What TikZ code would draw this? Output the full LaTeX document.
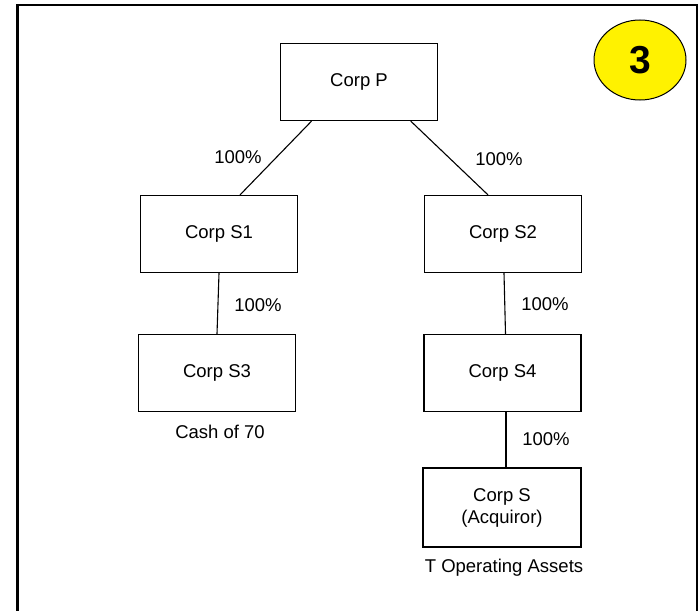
\documentclass[tikz,border=0pt]{standalone}
\usepackage{fontspec}
\setmainfont{Liberation Sans}
\usetikzlibrary{calc,shapes.geometric}
\tikzset{
  corp/.style={draw, line width=1.3pt, minimum width=157pt, minimum height=77pt, inner sep=0pt, align=center, font=\fontsize{18.5}{22}\selectfont},
  lbl/.style={inner sep=0pt, font=\fontsize{18.5}{22}\selectfont},
  link/.style={line width=1.1pt},
  frame/.style={line width=2.2pt},
}
\begin{document}
\begin{tikzpicture}[x=1pt,y=-1pt]
\useasboundingbox (0,0) rectangle (700,610);
% frame
\coordinate (fbl) at (17.5,611);
\coordinate (ftl) at (17.5,5);
\coordinate (ftr) at (697,5);
\coordinate (fbr) at (697,611);
\draw[frame] (fbl) -- (ftl) -- (ftr) -- (fbr);
% badge
\node[draw, line width=1pt, fill=yellow, ellipse, minimum width=92pt, minimum height=80pt, inner sep=0pt, font=\fontsize{39}{40}\selectfont\bfseries] (badge) at (640,60) {3};
% boxes
\node[corp] (P) at (359,82) {Corp P};
\node[corp] (S1) at (219,234) {Corp S1};
\node[corp] (S2) at (503,234) {Corp S2};
\node[corp] (S3) at (217,373) {Corp S3};
\node[corp] (S4) at (502.5,373) {Corp S4};
\node[corp, minimum width=158pt, minimum height=79pt] (S) at (502,507.5) {Corp S\\(Acquiror)};
% connectors
\draw[link] ($(P.south west)!0.2!(P.south east)$) -- ($(S1.north west)!0.633!(S1.north east)$);
\draw[link] ($(P.south west)!0.827!(P.south east)$) -- ($(S2.north west)!0.405!(S2.north east)$);
\draw[link] (S1.south) -- (S3.north);
\draw[link] ($(S2.south)+(1,0)$) -- ($(S4.north)+(3,0)$);
\draw[link] ($(S4.south)+(3.5,0)$) -- ($(S.north)+(4,0)$);
% labels
\node[lbl] (l1) at (238,157) {100\%};
\node[lbl] (l2) at (499,159) {100\%};
\node[lbl] (l3) at (258,305) {100\%};
\node[lbl] (l4) at (545,304) {100\%};
\node[lbl] (l5) at (546,439) {100\%};
\node[lbl] (c70) at (220,432) {Cash of 70};
\node[lbl] (toa) at (504,568) {T Operating Assets};
\end{tikzpicture}
\end{document}
